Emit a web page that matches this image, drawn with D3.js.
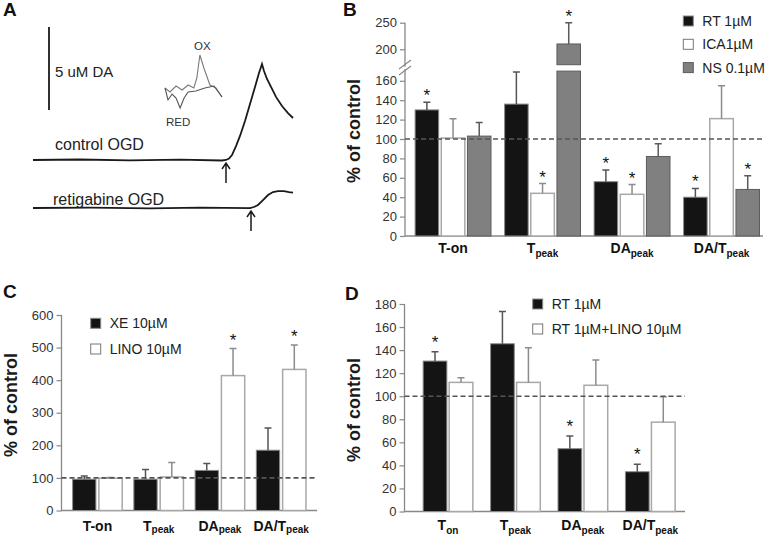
<!DOCTYPE html>
<html>
<head>
<meta charset="utf-8">
<script src="https://cdn.jsdelivr.net/npm/d3@7"></script>
<style>
  body { margin: 0; background: #fff; }
  svg { display: block; font-family: "Liberation Sans", Arial, sans-serif; }
</style>
</head>
<body>
<script>
/* ---- panel A: amperometric traces, [time s, DA uM] ---- */
const controlTrace = [[0,0],[47,0.03],[97,-0.02],[147,0.02],[189,-0.03],[193,0],[196,0.09],[199,0.3],[203,0.84],
  [207,1.45],[212,2.35],[217,3.37],[222,4.4],[226,5.24],[229,5.78],[231,5.36],[234,4.88],[238,4.4],[243,3.8],
  [249,3.25],[255,2.83],[260,2.53]]
const retigabineTrace = [[0,0],[57,0.02],[117,-0.02],[167,0.02],[217,-0.01],[221,0.06],[225,0.18],[230,0.48],
  [235,0.78],[240,0.96],[245,1.02],[251,1.02],[256,0.96],[260,0.93]]
const onsets = [193, 218]
// cyclic voltammogram inset, [potential V, current]
const cvForward = [[-0.4,0],[-0.25,-0.4],[-0.07,0.2],[0.11,-0.2],[0.29,0.3],[0.46,0],[0.55,1.0],[0.64,3.3],
  [0.76,2.0],[0.94,0.3],[1.12,0],[1.3,-0.9]]
const cvReverse = [[1.3,-0.9],[1.06,0.2],[0.79,0],[0.52,-0.3],[0.29,-0.4],[0.17,-1.0],[0.05,-2.0],[-0.07,-1.0],
  [-0.19,-0.6],[-0.31,-1.2],[-0.4,0]]

/* ---- panel B ---- */
const catsB = [["T-on",""],["T","peak"],["DA","peak"],["DA/T","peak"]]
const seriesB = ["RT 1µM","ICA1µM","NS 0.1µM"]
const rtB = [130,136,56,40], rtErrB = [138,169,68,49], rtStarB = [1,0,1,1]
const icaB = [101,44,43,121], icaErrB = [121,54,53,155], icaStarB = [0,1,1,0]
const nsB = [103,210,82,48], nsErrB = [117,250,95,62], nsStarB = [0,1,0,1]
const ticksLowB = [0,20,40,60,80,100,120,140,160]
const ticksHighB = [200,250]

/* ---- panel C ---- */
const catsC = [["T-on",""],["T","peak"],["DA","peak"],["DA/T","peak"]]
const seriesC = ["XE 10µM","LINO 10µM"]
const xeC = [96,96,123,185], xeErrC = [106,126,144,253], xeStarC = [0,0,0,0]
const linoC = [99,103,414,433], linoErrC = [101,147,497,508], linoStarC = [0,0,1,1]
const ticksC = [0,100,200,300,400,500,600]

/* ---- panel D ---- */
const catsD = [["T","on"],["T","peak"],["DA","peak"],["DA/T","peak"]]
const seriesD = ["RT 1µM","RT 1µM+LINO 10µM"]
const rtD = [130.5,145.5,54.5,34.5], rtErrD = [138.5,173.5,65.5,41], rtStarD = [1,0,1,1]
const linoD = [112,112,109.5,77.5], linoErrD = [116,142,131.5,99.5], linoStarD = [0,0,0,0]
const ticksD = [0,20,40,60,80,100,120,140,160,180]

const svg = d3.select("body").append("svg")
  .attr("width", 765).attr("height", 536)

const blackBar = { fill: "#141414", stroke: "#8a8a8a", sw: 1, err: "#555" }
const whiteBar = { fill: "#fff", stroke: "#a8a8a8", sw: 1.5, err: "#8c8c8c" }
const greyBar = { fill: "#808080", stroke: "#5c5c5c", sw: 1, err: "#5a5a5a" }

/* panel letters */
const letters = [["A",3,16],["B",343,16],["C",3,298],["D",345,300]]
svg.selectAll(".letter").data(letters).join("text")
  .attr("class","letter")
  .attr("x", d => d[1]).attr("y", d => d[2])
  .attr("font-size", 19).attr("font-weight", "bold").attr("fill", "#111")
  .text(d => d[0])

/* ================= panel A ================= */
const xA = d3.scaleLinear().domain([0, 260]).range([33, 293])
const yA = d3.scaleLinear().domain([0, 5]).range([0, -83])
const lineA = d3.line().x(d => xA(d[0])).y(d => yA(d[1]))

const gA = svg.append("g")
const traces = [[controlTrace, 160], [retigabineTrace, 208]]
traces.forEach(([tr, base], i) => {
  gA.append("path")
    .attr("transform", `translate(0,${base})`)
    .attr("d", lineA(tr))
    .attr("fill", "none").attr("stroke", "#1a1a1a").attr("stroke-width", 1.8)
  /* onset arrow */
  const ax = xA(onsets[i]), top = base + 3, bot = base + 23
  gA.append("path")
    .attr("d", `M${ax},${bot}V${top}M${ax-4},${top+6}L${ax},${top}L${ax+4},${top+6}`)
    .attr("fill", "none").attr("stroke", "#1a1a1a").attr("stroke-width", 1.5)
})

/* scale bar: 5 uM */
gA.append("line")
  .attr("x1", 49).attr("x2", 49)
  .attr("y1", 110).attr("y2", 110 + yA(5))
  .attr("stroke", "#1a1a1a").attr("stroke-width", 1.8)
gA.append("text").attr("x", 55).attr("y", 77)
  .attr("font-size", 15).attr("fill", "#222").text("5 uM DA")

gA.append("text").attr("x", 55).attr("y", 150)
  .attr("font-size", 16).attr("fill", "#222").text("control OGD")
gA.append("text").attr("x", 53).attr("y", 205)
  .attr("font-size", 16).attr("fill", "#222").text("retigabine OGD")

/* CV inset */
const xCV = d3.scaleLinear().domain([-0.4, 1.3]).range([165, 222])
const yCV = d3.scaleLinear().domain([-3, 4]).range([118, 48])
const lineCV = d3.line().x(d => xCV(d[0])).y(d => yCV(d[1]))
gA.append("path").attr("d", lineCV(cvForward))
  .attr("fill", "none").attr("stroke", "#7a7a7a").attr("stroke-width", 1.1)
gA.append("path").attr("d", lineCV(cvReverse))
  .attr("fill", "none").attr("stroke", "#555").attr("stroke-width", 1.1)
gA.append("text").attr("x", 194).attr("y", 50)
  .attr("font-size", 11.5).attr("fill", "#333").text("OX")
gA.append("text").attr("x", 166).attr("y", 126)
  .attr("font-size", 11.5).attr("fill", "#333").text("RED")

/* ================= shared bar helpers ================= */
function yTitle(x, y) {
  svg.append("text")
    .attr("transform", `translate(${x},${y}) rotate(-90)`)
    .attr("text-anchor", "middle")
    .attr("font-size", 18).attr("font-weight", "bold").attr("fill", "#1a1a1a")
    .text("% of control")
}

function catLabels(g, cats, x0, y, subDy) {
  g.selectAll(".cat").data(cats).join("text")
    .attr("class", "cat")
    .attr("x", d => x0(d[0] + d[1]) + x0.bandwidth() / 2)
    .attr("y", y)
    .attr("text-anchor", "middle")
    .attr("font-size", 14).attr("font-weight", "bold").attr("fill", "#111")
    .each(function (d) {
      const t = d3.select(this)
      t.append("tspan").text(d[0])
      if (d[1]) t.append("tspan").attr("font-size", 10).attr("dy", subDy).text(d[1])
    })
}

function styleAxis(sel) {
  sel.select(".domain").remove()
  sel.selectAll(".tick line").attr("stroke", "#888").attr("stroke-width", 1.2)
  sel.selectAll(".tick text").attr("font-size", 13).attr("fill", "#333")
    .attr("font-family", "Liberation Sans, Arial, sans-serif")
}

function legend(g, items, styles, x, y, step) {
  items.forEach((name, i) => {
    const s = styles[i]
    g.append("rect")
      .attr("x", x).attr("y", y + i * step - 5)
      .attr("width", 10).attr("height", 10)
      .attr("fill", s.fill).attr("stroke", s === whiteBar ? "#777" : s.stroke).attr("stroke-width", 1)
    g.append("text")
      .attr("x", x + 19).attr("y", y + i * step + 5)
      .attr("font-size", 14).attr("fill", "#222").text(name)
  })
}

function errorBar(g, cx, yTop, yErr, color) {
  g.append("path")
    .attr("d", `M${cx},${yTop}V${yErr}M${cx-3.5},${yErr}H${cx+3.5}`)
    .attr("fill", "none").attr("stroke", color).attr("stroke-width", 1.5)
}

function star(g, cx, yErr) {
  g.append("text")
    .attr("x", cx).attr("y", yErr - 1)
    .attr("text-anchor", "middle")
    .attr("font-size", 17).attr("fill", "#111").text("*")
}

/* ================= panel B (broken axis) ================= */
const gB = svg.append("g")
const axB = 405
const yLowB = d3.scaleLinear().domain([0, 170]).range([236, 71.1])
const yHighB = d3.scaleLinear().domain([171, 250]).range([64.7, 22.7])
const yB = v => v <= 170 ? yLowB(v) : yHighB(v)
const x0B = d3.scaleBand().domain(catsB.map(d => d[0] + d[1])).range([408.3, 766.3])
const x1B = d3.scaleBand().domain(seriesB).range([6.8, 82.7]).paddingInner(0.1)

gB.append("g").attr("transform", `translate(${axB},0)`)
  .call(d3.axisLeft(yLowB).tickValues(ticksLowB).tickSize(5).tickPadding(3)).call(styleAxis)
gB.append("g").attr("transform", `translate(${axB},0)`)
  .call(d3.axisLeft(yHighB).tickValues(ticksHighB).tickSize(5).tickPadding(3)).call(styleAxis)
gB.append("path")
  .attr("d", `M${axB},${yHighB(250)}V${yHighB(171)+2}M${axB},${yLowB(170)-2}V${yLowB(0)}H763`)
  .attr("fill", "none").attr("stroke", "#888").attr("stroke-width", 1.3)
gB.append("path")
  .attr("d", `M${axB-6},${69}L${axB+6},${60}M${axB-6},${75}L${axB+6},${66}`)
  .attr("stroke", "#888").attr("stroke-width", 1.2)

const dataB = [[rtB, rtErrB, rtStarB, blackBar], [icaB, icaErrB, icaStarB, whiteBar], [nsB, nsErrB, nsStarB, greyBar]]
dataB.forEach(([vals, errs, stars, st], si) => {
  catsB.forEach((c, ci) => {
    const x = x0B(c[0] + c[1]) + x1B(seriesB[si])
    const w = x1B.bandwidth(), cx = x + w / 2
    const v = vals[ci]
    if (v > 170) {
      gB.append("rect").attr("x", x).attr("y", yLowB(170)).attr("width", w).attr("height", yLowB(0) - yLowB(170))
        .attr("fill", st.fill).attr("stroke", st.stroke).attr("stroke-width", st.sw)
      gB.append("rect").attr("x", x).attr("y", yHighB(v)).attr("width", w).attr("height", yHighB(171) - yHighB(v))
        .attr("fill", st.fill).attr("stroke", st.stroke).attr("stroke-width", st.sw)
    } else {
      gB.append("rect").attr("x", x).attr("y", yB(v)).attr("width", w).attr("height", yB(0) - yB(v))
        .attr("fill", st.fill).attr("stroke", st.stroke).attr("stroke-width", st.sw)
    }
    errorBar(gB, cx, yB(v), yB(errs[ci]), st.err)
    if (stars[ci]) star(gB, cx, yB(errs[ci]))
  })
})
gB.append("line").attr("x1", axB).attr("x2", 763).attr("y1", yB(100)).attr("y2", yB(100))
  .attr("stroke", "#555").attr("stroke-width", 1.6).attr("stroke-dasharray", "5,3")
catLabels(gB, catsB, x0B, 253, 4)
legend(gB, seriesB, [blackBar, whiteBar, greyBar], 683.3, 21, 23.3)
yTitle(360, 131)

/* ================= panel C ================= */
const gC = svg.append("g")
const axC = 61.5
const yC = d3.scaleLinear().domain([0, 600]).range([510.5, 315])
const x0C = d3.scaleBand().domain(catsC.map(d => d[0] + d[1])).range([66.8, 311.8])
const x1C = d3.scaleBand().domain(seriesC).range([5.8, 55.4]).paddingInner(0.114)

gC.append("g").attr("transform", `translate(${axC},0)`)
  .call(d3.axisLeft(yC).tickValues(ticksC).tickSize(5).tickPadding(3)).call(styleAxis)
gC.append("path").attr("d", `M${axC},${yC(600)}V${yC(0)}H317`)
  .attr("fill", "none").attr("stroke", "#888").attr("stroke-width", 1.3)

const dataC = [[xeC, xeErrC, xeStarC, blackBar], [linoC, linoErrC, linoStarC, whiteBar]]
dataC.forEach(([vals, errs, stars, st], si) => {
  catsC.forEach((c, ci) => {
    const x = x0C(c[0] + c[1]) + x1C(seriesC[si])
    const w = x1C.bandwidth(), cx = x + w / 2
    gC.append("rect").attr("x", x).attr("y", yC(vals[ci])).attr("width", w).attr("height", yC(0) - yC(vals[ci]))
      .attr("fill", st.fill).attr("stroke", st.stroke).attr("stroke-width", st.sw)
    errorBar(gC, cx, yC(vals[ci]), yC(errs[ci]), st.err)
    if (stars[ci]) star(gC, cx, yC(errs[ci]) - 2)
  })
})
gC.append("line").attr("x1", axC).attr("x2", 317).attr("y1", yC(100)).attr("y2", yC(100))
  .attr("stroke", "#555").attr("stroke-width", 1.6).attr("stroke-dasharray", "5,3")
catLabels(gC, catsC, x0C, 530.5, 2.5)
legend(gC, seriesC, [blackBar, whiteBar], 90.7, 323.3, 25.7)
yTitle(17, 405)

/* ================= panel D ================= */
const gD = svg.append("g")
const axD = 404.5
const yD = d3.scaleLinear().domain([0, 180]).range([511.5, 304])
const x0D = d3.scaleBand().domain(catsD.map(d => d[0] + d[1])).range([414.3, 684])
const x1D = d3.scaleBand().domain(seriesD).range([8.85, 58.55]).paddingInner(0.088)

gD.append("g").attr("transform", `translate(${axD},0)`)
  .call(d3.axisLeft(yD).tickValues(ticksD).tickSize(5).tickPadding(3)).call(styleAxis)
gD.append("path").attr("d", `M${axD},${yD(180)}V${yD(0)}H685`)
  .attr("fill", "none").attr("stroke", "#888").attr("stroke-width", 1.3)

const dataD = [[rtD, rtErrD, rtStarD, blackBar], [linoD, linoErrD, linoStarD, whiteBar]]
dataD.forEach(([vals, errs, stars, st], si) => {
  catsD.forEach((c, ci) => {
    const x = x0D(c[0] + c[1]) + x1D(seriesD[si])
    const w = x1D.bandwidth(), cx = x + w / 2
    gD.append("rect").attr("x", x).attr("y", yD(vals[ci])).attr("width", w).attr("height", yD(0) - yD(vals[ci]))
      .attr("fill", st.fill).attr("stroke", st.stroke).attr("stroke-width", st.sw)
    errorBar(gD, cx, yD(vals[ci]), yD(errs[ci]), st.err)
    if (stars[ci]) star(gD, cx, yD(errs[ci]) - 3)
  })
})
gD.append("line").attr("x1", axD).attr("x2", 685).attr("y1", yD(100)).attr("y2", yD(100))
  .attr("stroke", "#555").attr("stroke-width", 1.6).attr("stroke-dasharray", "5,3")
catLabels(gD, catsD, x0D, 530, 3.5)
legend(gD, seriesD, [blackBar, whiteBar], 532.7, 304, 25)
yTitle(360, 410)
</script>
</body>
</html>
